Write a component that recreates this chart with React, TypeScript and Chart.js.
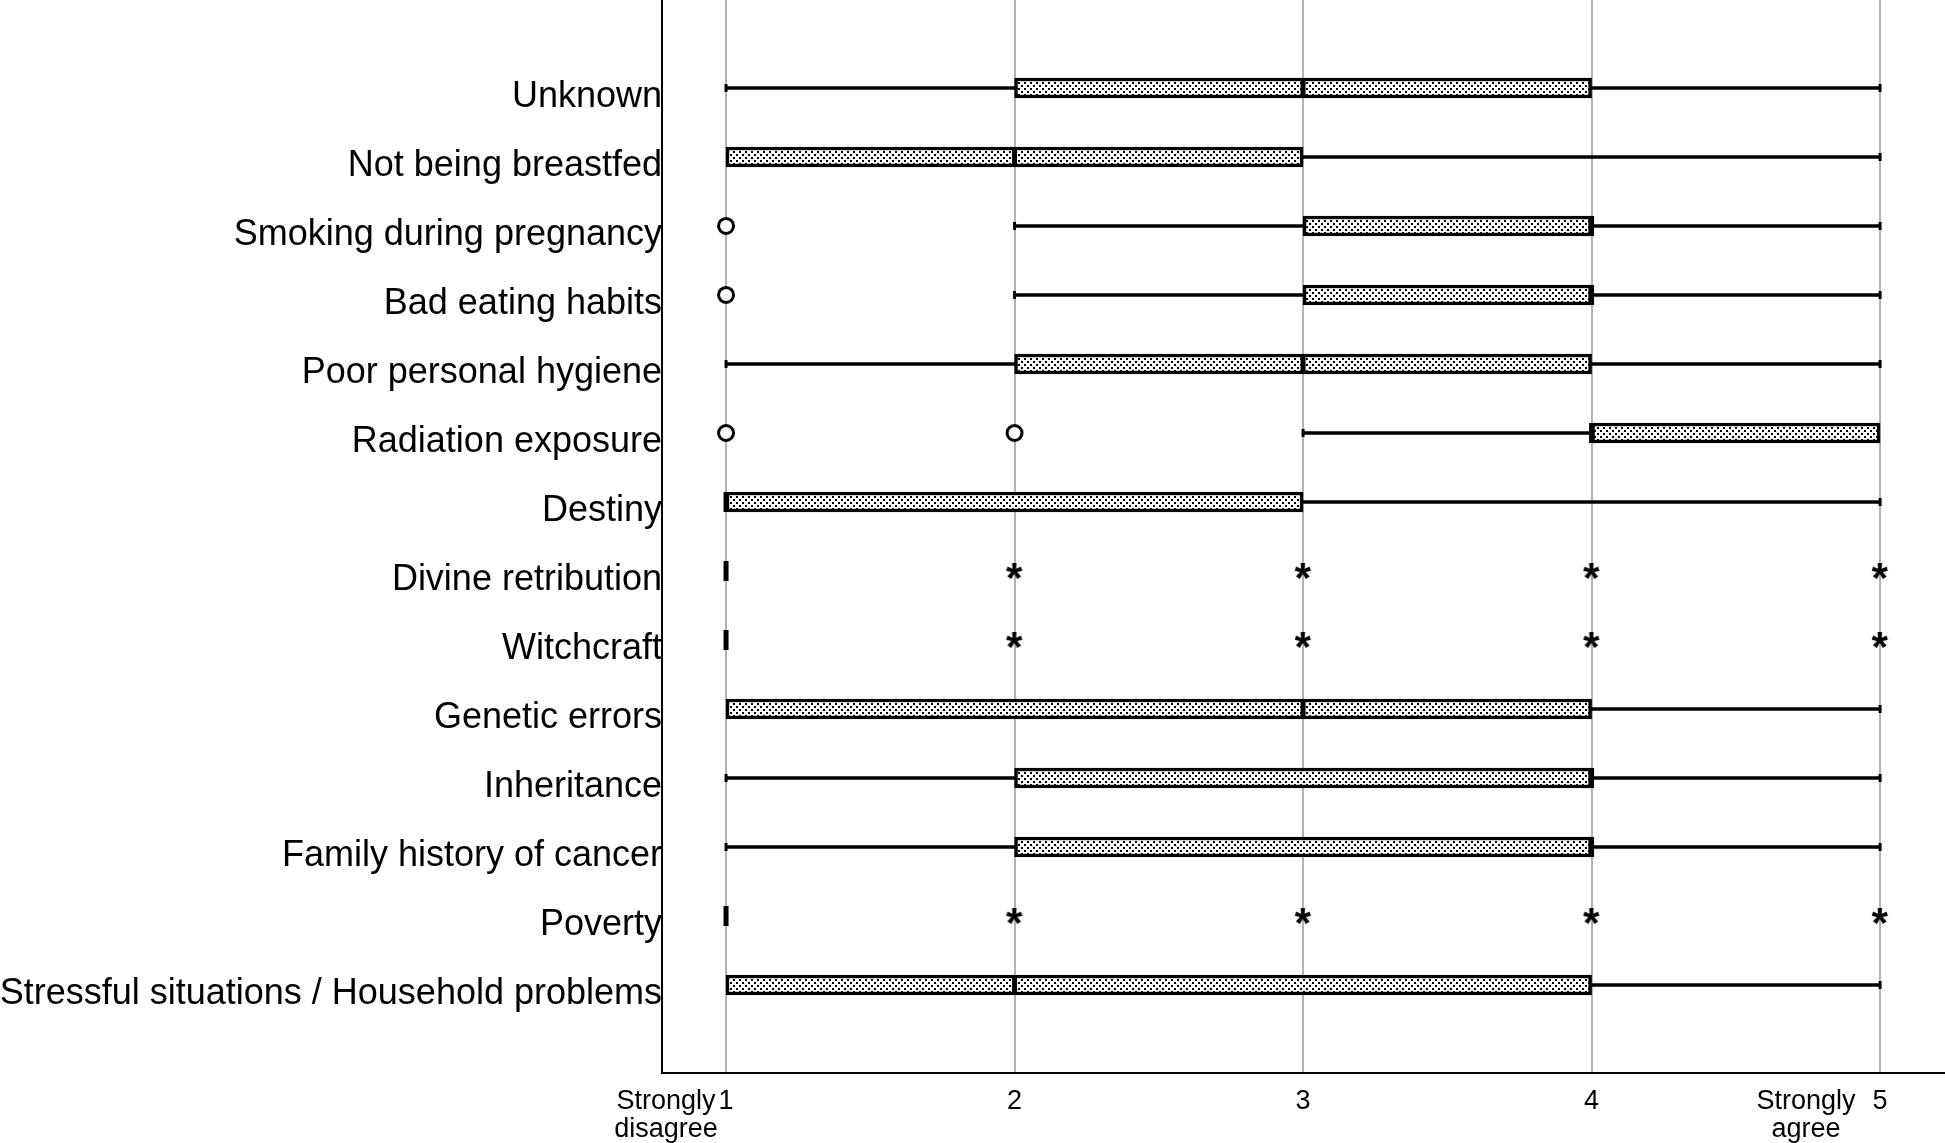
import React, { useEffect, useRef } from "react";
import { Chart, registerables } from "chart.js";

Chart.register(...registerables);

const FONT = "'Liberation Sans', Arial, Helvetica, sans-serif";

const categories = [
  "Unknown",
  "Not being breastfed",
  "Smoking during pregnancy",
  "Bad eating habits",
  "Poor personal hygiene",
  "Radiation exposure",
  "Destiny",
  "Divine retribution",
  "Witchcraft",
  "Genetic errors",
  "Inheritance",
  "Family history of cancer",
  "Poverty",
  "Stressful situations / Household problems",
];

const whiskerLow = [1, 1, 2, 2, 1, 3, 1, 1, 1, 1, 1, 1, 1, 1];
const q1 = [2, 1, 3, 3, 2, 4, 1, 1, 1, 1, 2, 2, 1, 1];
const median = [3, 2, 4, 4, 3, 4, 1, 1, 1, 3, 4, 4, 1, 2];
const q3 = [4, 3, 4, 4, 4, 5, 3, 1, 1, 4, 4, 4, 1, 4];
const whiskerHigh = [5, 5, 5, 5, 5, 5, 5, 1, 1, 5, 5, 5, 1, 5];

// circles (outliers) and asterisks (extremes) per category
const outliers: number[][] = [[], [], [1], [1], [], [1, 2], [], [], [], [], [], [], [], []];
const extremes: number[][] = [
  [], [], [], [], [], [], [],
  [2, 3, 4, 5],
  [2, 3, 4, 5],
  [], [], [],
  [2, 3, 4, 5],
  [],
];

const xTickValues = [0.792, 1, 2, 3, 4, 4.743, 5];
const xTickLabels: (string | string[])[] = [
  ["Strongly", "disagree"],
  "1",
  "2",
  "3",
  "4",
  ["Strongly", "agree"],
  "5",
];

const X_MIN = 0.778;
const X_MAX = 5.225;
const Y_MIN = -0.275;
const Y_MAX = 15.275;

export default function App() {
  const ref = useRef<HTMLCanvasElement>(null);

  useEffect(() => {
    const canvas = ref.current;
    if (!canvas) return;

    // dotted fill pattern
    const tile = document.createElement("canvas");
    tile.width = 6;
    tile.height = 6;
    const t = tile.getContext("2d")!;
    t.fillStyle = "#ffffff";
    t.fillRect(0, 0, 6, 6);
    t.fillStyle = "#000000";
    t.fillRect(1, 1, 2, 2);
    t.fillRect(4, 4, 2, 2);
    const pattern = canvas.getContext("2d")!.createPattern(tile, "repeat");

    // asterisk marker
    const star = document.createElement("canvas");
    star.width = 28;
    star.height = 28;
    const s = star.getContext("2d")!;
    s.font = `bold 42px ${FONT}`;
    s.fillStyle = "#000";
    s.textAlign = "left";
    s.textBaseline = "alphabetic";
    const m = s.measureText("*");
    const bx = 14 - (m.actualBoundingBoxRight - m.actualBoundingBoxLeft) / 2;
    const by = 14 + (m.actualBoundingBoxAscent - m.actualBoundingBoxDescent) / 2;
    s.fillText("*", bx, by);

    const whiskerData: any[] = [];
    const boxData: any[] = [];
    const medianData: any[] = [];
    const capData: any[] = [];
    const outlierData: any[] = [];
    const extremeData: any[] = [];

    categories.forEach((_, i) => {
      const y = i + 1;
      if (whiskerLow[i] < q1[i]) {
        whiskerData.push({ x: [whiskerLow[i], q1[i]], y });
        capData.push({ x: whiskerLow[i], y });
      }
      if (whiskerHigh[i] > q3[i]) {
        whiskerData.push({ x: [q3[i], whiskerHigh[i]], y });
        capData.push({ x: whiskerHigh[i], y });
      }
      if (q3[i] > q1[i]) boxData.push({ x: [q1[i], q3[i]], y });
      medianData.push({ x: median[i], y });
      outliers[i].forEach((v) => outlierData.push({ x: v, y }));
      extremes[i].forEach((v) => extremeData.push({ x: v, y }));
    });

    const chart = new Chart(canvas, {
      type: "bar",
      data: {
        datasets: [
          {
            type: "bar",
            data: whiskerData,
            backgroundColor: "#000",
            borderWidth: 0,
            barThickness: 3,
            grouped: false,
            order: 5,
          } as any,
          {
            type: "bar",
            data: boxData,
            backgroundColor: pattern as any,
            borderColor: "#000",
            borderWidth: 3.5,
            borderSkipped: false,
            barThickness: 20,
            grouped: false,
            order: 4,
          } as any,
          {
            type: "scatter",
            data: medianData,
            showLine: false,
            pointStyle: "line",
            pointRotation: 90,
            pointRadius: 10,
            pointHoverRadius: 10,
            pointBorderWidth: 5,
            pointBorderColor: "#000",
            order: 3,
          } as any,
          {
            type: "scatter",
            data: capData,
            showLine: false,
            pointStyle: "line",
            pointRotation: 90,
            pointRadius: 4,
            pointHoverRadius: 4,
            pointBorderWidth: 3,
            pointBorderColor: "#000",
            order: 3,
          } as any,
          {
            type: "scatter",
            data: outlierData,
            showLine: false,
            pointStyle: "circle",
            pointRadius: 7.5,
            pointHoverRadius: 7.5,
            pointBorderWidth: 3,
            pointBorderColor: "#000",
            pointBackgroundColor: "#fff",
            order: 1,
          } as any,
          {
            type: "scatter",
            data: extremeData,
            showLine: false,
            pointStyle: star,
            pointRadius: 10,
            order: 1,
          } as any,
        ],
      },
      options: {
        indexAxis: "y",
        responsive: false,
        animation: false,
        events: [],
        layout: { padding: 0, autoPadding: false },
        plugins: {
          legend: { display: false },
          tooltip: { enabled: false },
        },
        scales: {
          x: {
            type: "linear",
            position: "bottom",
            offset: false,
            min: X_MIN,
            max: X_MAX,
            afterBuildTicks: (sc: any) => {
              sc.ticks = xTickValues.map((v) => ({ value: v }));
            },
            afterFit: (sc: any) => {
              sc.height = 70;
              sc.paddingLeft = 0;
              sc.paddingRight = 0;
            },
            ticks: {
              autoSkip: false,
              maxRotation: 0,
              minRotation: 0,
              padding: 14,
              color: "#000",
              font: { family: FONT, size: 27, lineHeight: 1.05 },
              callback: (_v: any, i: number) => xTickLabels[i] as any,
            },
            grid: {
              drawTicks: false,
              lineWidth: 2,
              color: (c: any) =>
                c.tick && Number.isInteger(c.tick.value) ? "#b3b3b3" : "rgba(0,0,0,0)",
            },
            border: { display: true, color: "#000", width: 2 },
          },
          y: {
            type: "linear",
            reverse: true,
            offset: false,
            min: Y_MIN,
            max: Y_MAX,
            afterBuildTicks: (sc: any) => {
              sc.ticks = categories.map((_, i) => ({ value: i + 1 }));
            },
            afterFit: (sc: any) => {
              sc.width = 662;
              sc.paddingTop = 0;
              sc.paddingBottom = 0;
            },
            ticks: {
              autoSkip: false,
              padding: 0,
              labelOffset: 9,
              color: "#000",
              font: { family: FONT, size: 36 },
              callback: (v: any) => categories[Math.round(Number(v)) - 1] ?? "",
            },
            grid: { display: false, drawTicks: false },
            border: { display: true, color: "#000", width: 2 },
          },
        },
      } as any,
    });

    return () => chart.destroy();
  }, []);

  return (
    <div
      style={{
        position: "fixed",
        left: 0,
        top: 0,
        width: 1945,
        height: 1143,
        background: "#fff",
      }}
    >
      <canvas ref={ref} width={1945} height={1143} style={{ display: "block" }} />
    </div>
  );
}
